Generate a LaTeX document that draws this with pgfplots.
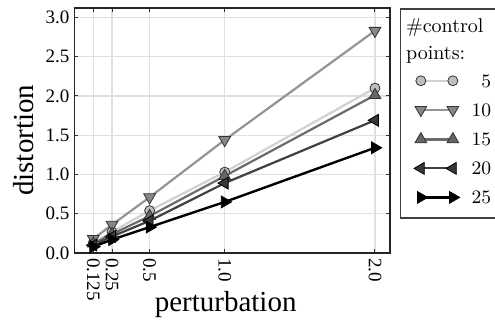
\documentclass[border=0pt]{standalone}
\usepackage{fontspec}
\usepackage{pgfplots}
\pgfplotsset{compat=1.18}
\newfontfamily\tms{Liberation Serif}
\newfontfamily\lmr{Latin Modern Roman}
\definecolor{c5line}{gray}{0.82}
\definecolor{c5fill}{gray}{0.75}
\definecolor{c10line}{gray}{0.58}
\definecolor{c10fill}{gray}{0.53}
\definecolor{c15line}{gray}{0.42}
\definecolor{c15fill}{gray}{0.40}
\definecolor{c20line}{gray}{0.25}
\definecolor{c20fill}{gray}{0.22}
\begin{document}
\begin{tikzpicture}
\begin{axis}[
  scale only axis,
  width=157.75pt, height=122.5pt,
  xmin=0, xmax=2.1, ymin=0, ymax=3.12,
  xtick={0.125,0.25,0.5,1,2},
  xticklabels={0.125,0.25,0.5,1.0,2.0},
  ytick={0,0.5,1,1.5,2,2.5,3},
  yticklabels={0.0,0.5,1.0,1.5,2.0,2.5,3.0},
  /pgf/number format/assume math mode=true,
  tick label style={font=\tms\fontsize{9.5}{10}\selectfont},
  xticklabel style={rotate=-90, anchor=west, xshift=-1pt},
  yticklabel style={xshift=1pt},
  tick align=inside,
  major tick length=2pt,
  tick style={black!80, line width=0.5pt},
  axis line style={black!85, line width=0.6pt},
  grid=major,
  grid style={black!12, line width=0.7pt},
  xlabel={perturbation},
  ylabel={distortion},
  every axis x label/.style={at={(axis description cs:0.479,-0.21)}, anchor=center, font=\tms\fontsize{14.5}{15}\selectfont},
  every axis y label/.style={at={(axis description cs:-0.16,0.46)}, rotate=90, anchor=center, font=\tms\fontsize{14.5}{15}\selectfont},
  legend image code/.code={\draw[#1] plot coordinates {(0pt,0pt) (16pt,0pt)};},
  legend cell align=right,
  legend style={draw=none, fill=none, at={(axis description cs:1.075,0.731)}, anchor=north west,
    font=\lmr\fontsize{9.5}{10}\selectfont, inner sep=0pt, row sep=8pt,
    /tikz/every odd column/.append style={column sep=6pt},
    nodes={inner sep=0pt, text height=6.5pt, text depth=0pt}},
  clip=false,
]
\addplot[c5line, line width=1.1pt, mark=*, mark size=2.5pt,
  mark options={solid, fill=c5fill, draw=black!80, line width=0.4pt}]
  coordinates {(0.125,0.13) (0.25,0.27) (0.5,0.54) (1,1.03) (2,2.10)};
\addlegendentry{5}
\addplot[c10line, line width=1.1pt, mark=triangle*, mark size=3.4pt,
  mark options={solid, rotate=180, fill=c10fill, draw=black!80, line width=0.4pt}]
  coordinates {(0.125,0.18) (0.25,0.36) (0.5,0.71) (1,1.44) (2,2.83)};
\addlegendentry{10}
\addplot[c15line, line width=1.1pt, mark=triangle*, mark size=3.4pt,
  mark options={solid, fill=c15fill, draw=black!80, line width=0.4pt}]
  coordinates {(0.125,0.12) (0.25,0.24) (0.5,0.47) (1,0.98) (2,2.01)};
\addlegendentry{15}
\addplot[c20line, line width=1.1pt, mark=triangle*, mark size=3.4pt,
  mark options={solid, rotate=90, fill=c20fill, draw=black, line width=0.4pt}]
  coordinates {(0.125,0.10) (0.25,0.21) (0.5,0.41) (1,0.89) (2,1.69)};
\addlegendentry{20}
\addplot[black, line width=1.2pt, mark=triangle*, mark size=3.4pt,
  mark options={solid, rotate=-90, fill=black, draw=black, line width=0.4pt}]
  coordinates {(0.125,0.08) (0.25,0.17) (0.5,0.33) (1,0.65) (2,1.34)};
\addlegendentry{25}
\draw[black!75, line width=0.6pt] (axis description cs:1.033,0.996) rectangle (axis description cs:1.45,0.143);
\node[anchor=north west, align=left, inner sep=0pt, font=\lmr\fontsize{10}{13.5}\selectfont]
  at (axis description cs:1.05,0.958) {\#control\\points:};
\end{axis}
\pgfresetboundingbox
\path[use as bounding box] (current axis.south west) ++(-37.25pt,-33.5pt) rectangle ++(247.5pt,160pt);
\end{tikzpicture}
\end{document}
